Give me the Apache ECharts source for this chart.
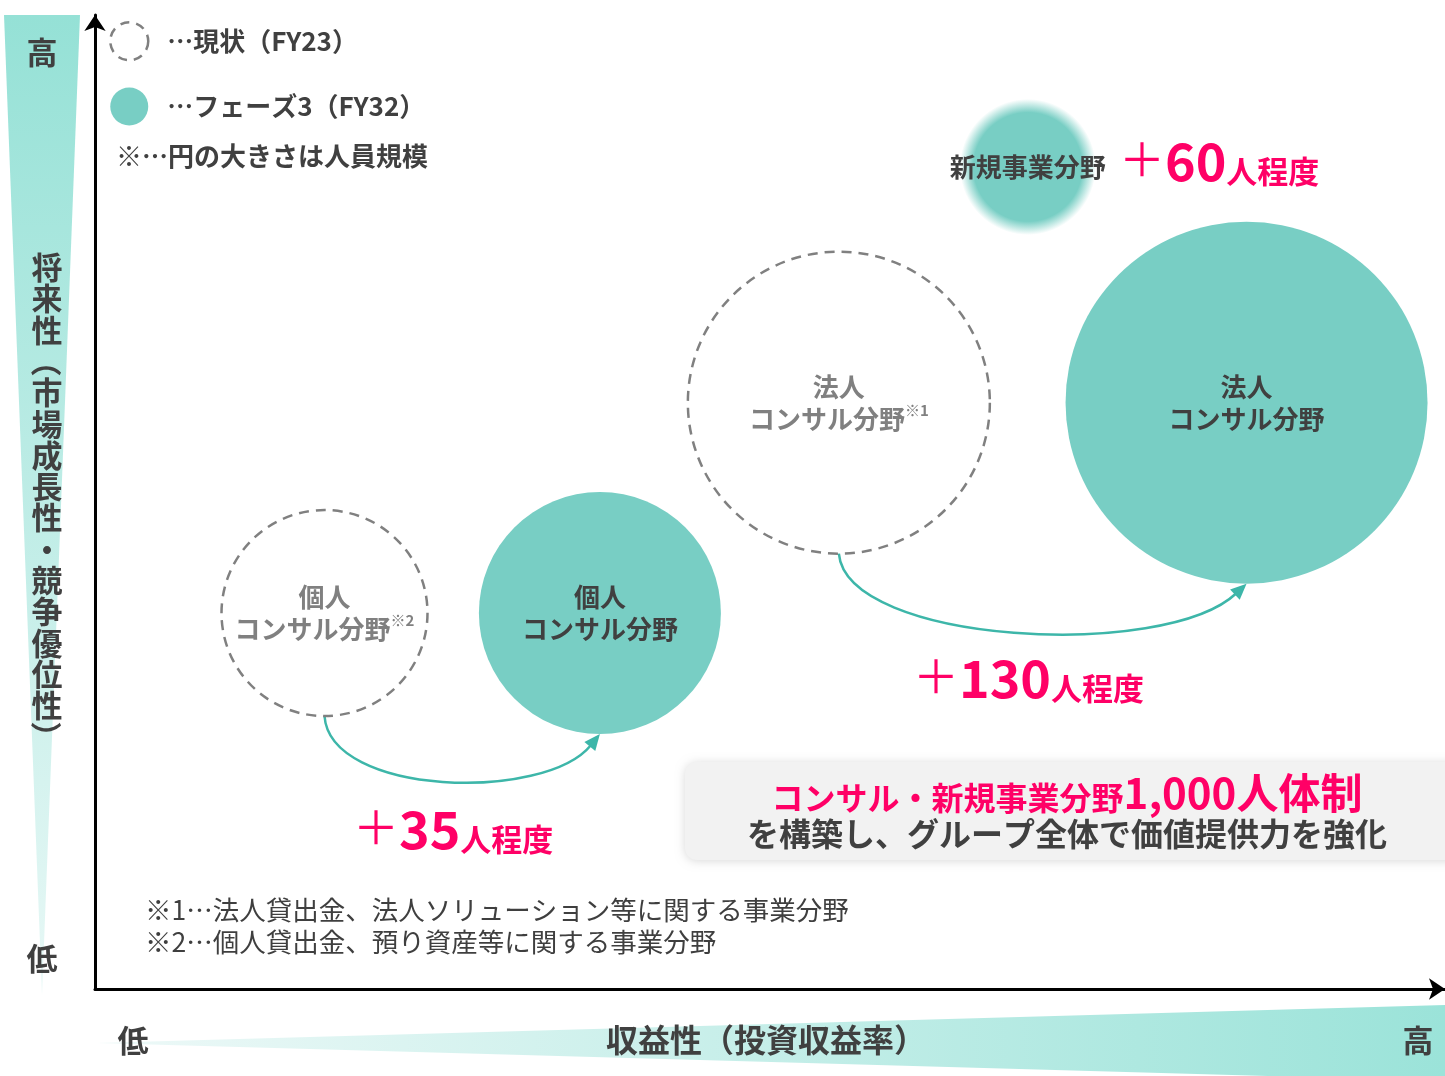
<!DOCTYPE html>
<html><head><meta charset="utf-8">
<script src="https://cdn.jsdelivr.net/npm/echarts/dist/echarts.min.js"></script>
<style>html,body{margin:0;padding:0;background:#fff}#c{width:1445px;height:1076px}</style>
</head><body><div id="c"></div>
<script>
// ---- data ----
const segments = ['個人\nコンサル分野', '法人\nコンサル分野', '新規事業分野'];
const notes = ['※2', '※1'];
// FY23 (current): x = 収益性, y = 将来性, size = 人員規模 (bubble diameter)
const fy23X = [17.0, 55.1];
const fy23Y = [38.6, 60.2];
const fy23Size = [206, 302];
// FY32 (phase 3)
const fy32X = [37.4, 85.3, 69.1];
const fy32Y = [38.6, 60.2, 84.4];
const fy32Size = [242, 362, 136];
const increase = [35, 130, 60];
const totalTarget = '1,000';
const legendNames = ['…現状（FY23）', '…フェーズ3（FY32）'];
const sizeNote = '※…円の大きさは人員規模';
const footnotes = ['※1…法人貸出金、法人ソリューション等に関する事業分野', '※2…個人貸出金、預り資産等に関する事業分野'];
const yAxisTitle = ['将','来','性','（','市','場','成','長','性','・','競','争','優','位','性','）'];
const xAxisTitle = '収益性（投資収益率）';

// ---- chart ----
const FONT = '"Noto Sans CJK JP", "Noto Sans", sans-serif';
const TEAL = '#78cec4';
const ARROW = '#3db6a9';
const PINK = '#ff0066';
const DARK = '#404040';
const GRAY = '#808080';

function txt(x, y, text, o) {
  return { type: 'text', x, y, silent: true, z: 10, style: Object.assign({
    text, fontFamily: FONT, fill: DARK, fontSize: 26, fontWeight: 'bold',
    align: 'left', verticalAlign: 'middle', textAlign: 'left', textVerticalAlign: 'middle'
  }, o || {}) };
}
function plusText(x, y, n) {
  return txt(x, y, `{p|＋}{n|${n}}{u|人程度}`, {
    rich: {
      p: { fontSize: 46, fontWeight: 'normal', fill: PINK, fontFamily: FONT, lineHeight: 56, verticalAlign: 'middle' },
      n: { fontSize: 52, fontWeight: 'bold', fill: PINK, fontFamily: FONT, lineHeight: 56, verticalAlign: 'bottom' },
      u: { fontSize: 31, fontWeight: 'bold', fill: PINK, fontFamily: FONT, lineHeight: 33, verticalAlign: 'bottom' }
    }
  });
}
// vertical (tategaki) title: one glyph per cell, brackets rotated
function verticalTitle(cx, cy, chars, pitch) {
  const top = cy - (chars.length - 1) / 2 * pitch;
  return chars.map((ch, i) => {
    const el = txt(cx, top + i * pitch, ch, { fontSize: 31, align: 'center', textAlign: 'center' });
    if (ch === '（' || ch === '）') el.rotation = -Math.PI / 2;
    return el;
  });
}

const chart = echarts.init(document.getElementById('c'), null, { renderer: 'canvas' });

const option = {
  backgroundColor: '#ffffff',
  animation: false,
  grid: { left: 95, right: 0, top: 15, bottom: 87 },
  xAxis: {
    type: 'value', min: 0, max: 100,
    axisLine: { show: true, onZero: false, symbol: ['none', 'arrow'], symbolSize: [16, 16], lineStyle: { color: '#000', width: 3 } },
    axisTick: { show: false }, axisLabel: { show: false }, splitLine: { show: false }
  },
  yAxis: {
    type: 'value', min: 0, max: 100,
    axisLine: { show: true, onZero: false, symbol: ['none', 'arrow'], symbolSize: [16, 16], lineStyle: { color: '#000', width: 3 } },
    axisTick: { show: false }, axisLabel: { show: false }, splitLine: { show: false }
  },
  legend: {
    orient: 'vertical', left: 109, top: 21, padding: 0, itemWidth: 38, itemHeight: 38, itemGap: 26,
    selectedMode: false,
    data: [
      { name: legendNames[0], icon: 'circle', itemStyle: { color: 'rgba(255,255,255,0)', borderColor: GRAY, borderWidth: 2.5, borderType: [9, 7], opacity: 1 } },
      { name: legendNames[1], icon: 'circle', itemStyle: { color: TEAL, borderWidth: 0, opacity: 1 } }
    ],
    textStyle: { fontFamily: FONT, fontSize: 26, fontWeight: 'bold', color: DARK, padding: [0, 0, 0, 14] }
  },
  series: [
    {
      name: legendNames[0], type: 'scatter', z: 3,
      symbolSize: v => v[2],
      data: fy23X.map((x, i) => ({ name: segments[i], value: [x, fy23Y[i], fy23Size[i]] })),
      itemStyle: { color: 'rgba(255,255,255,0)', borderColor: GRAY, borderWidth: 2.5, borderType: [10, 7], opacity: 1 },
      emphasis: { disabled: true },
      label: {
        show: true, position: 'inside',
        formatter: p => { const [a, b] = p.name.split('\n'); return `{t|${a}}\n{t|${b}}{s|${notes[p.dataIndex]}}`; },
        rich: {
          t: { fontFamily: FONT, fontSize: 26, fontWeight: 'bold', color: GRAY, lineHeight: 32 },
          s: { fontFamily: FONT, fontSize: 15, fontWeight: 'bold', color: GRAY, lineHeight: 32, verticalAlign: 'top' }
        }
      }
    },
    {
      name: legendNames[1], type: 'scatter', z: 3,
      symbolSize: v => v[2],
      data: fy32X.map((x, i) => {
        const item = { name: segments[i], value: [x, fy32Y[i], fy32Size[i]] };
        if (i === 2) {
          item.itemStyle = { color: { type: 'radial', x: 0.5, y: 0.5, r: 0.5, colorStops: [
            { offset: 0, color: 'rgba(120,206,196,1)' },
            { offset: 0.8, color: 'rgba(120,206,196,1)' },
            { offset: 1, color: 'rgba(120,206,196,0)' }] }, opacity: 1 };
        }
        return item;
      }),
      itemStyle: { color: TEAL, opacity: 1 },
      emphasis: { disabled: true },
      label: {
        show: true, position: 'inside',
        formatter: p => p.name.split('\n').map(s => `{t|${s}}`).join('\n'),
        rich: { t: { fontFamily: FONT, fontSize: 26, fontWeight: 'bold', color: DARK, lineHeight: 32 } }
      }
    },
    {
      type: 'custom', z: 2, silent: true,
      encode: { x: [0, 3], y: [1, 4] },
      data: fy23X.map((x, i) => [x, fy23Y[i], fy23Size[i], fy32X[i], fy32Y[i], fy32Size[i]]),
      renderItem: (params, api) => {
        const p1 = api.coord([api.value(0), api.value(1)]);
        const p2 = api.coord([api.value(3), api.value(4)]);
        const x1 = p1[0], y1 = p1[1] + api.value(2) / 2;
        const x2 = p2[0], y2 = p2[1] + api.value(5) / 2;
        const dx = x2 - x1, D = 58 + 0.08 * dx;
        const c1 = [x1 + 0.02 * dx, y1 + D], c2 = [x1 + 0.8 * dx, y2 + 0.85 * D];
        let ux = x2 - c2[0], uy = y2 - c2[1];
        const L = Math.hypot(ux, uy); ux /= L; uy /= L;
        const hl = 16, hw = 7;
        const bx = x2 - ux * hl, by = y2 - uy * hl;
        return { type: 'group', children: [
          { type: 'bezierCurve', shape: { x1, y1, x2: bx + ux * 2, y2: by + uy * 2, cpx1: c1[0], cpy1: c1[1], cpx2: c2[0], cpy2: c2[1] },
            style: { stroke: ARROW, lineWidth: 2.5, fill: null } },
          { type: 'polygon', shape: { points: [[x2, y2], [bx - uy * hw, by + ux * hw], [bx + uy * hw, by - ux * hw]] },
            style: { fill: ARROW } }
        ] };
      }
    }
  ],
  graphic: [
    { type: 'polygon', silent: true, z: 0, shape: { points: [[4, 15], [80, 15], [42, 995]] },
      style: { fill: new echarts.graphic.LinearGradient(0, 0, 0, 1, [{ offset: 0, color: '#95e1d6' }, { offset: 1, color: '#e8f8f6' }]) } },
    { type: 'polygon', silent: true, z: 0, shape: { points: [[97, 1043], [1445, 1005], [1445, 1081]] },
      style: { fill: new echarts.graphic.LinearGradient(0, 0, 1, 0, [{ offset: 0, color: '#eef9f8' }, { offset: 1, color: '#9be3d9' }]) } },
    txt(42, 52, '高', { fontSize: 31, align: 'center', textAlign: 'center' }),
    ...verticalTitle(47, 502, yAxisTitle, 31.3),
    txt(42, 958, '低', { fontSize: 31, align: 'center', textAlign: 'center' }),
    txt(133, 1040, '低', { fontSize: 31, align: 'center', textAlign: 'center' }),
    txt(766, 1040, xAxisTitle, { fontSize: 32, align: 'center', textAlign: 'center' }),
    txt(1418, 1040, '高', { fontSize: 31, align: 'center', textAlign: 'center' }),
    txt(116, 156, sizeNote),
    txt(145, 910, footnotes[0], { fontWeight: 'normal', fill: '#3f3f3f', fontSize: 26.5 }),
    txt(145, 942, footnotes[1], { fontWeight: 'normal', fill: '#3f3f3f', fontSize: 26.5 }),
    plusText(353, 827, increase[0]),
    plusText(913, 676, increase[1]),
    plusText(1119, 159, increase[2]),
    { type: 'rect', silent: true, z: 5, shape: { x: 685, y: 762, width: 800, height: 98, r: 12 },
      style: { fill: '#f2f2f2', shadowBlur: 10, shadowColor: 'rgba(0,0,0,0.15)', shadowOffsetX: 0, shadowOffsetY: 1 } },
    txt(1067, 791, `{a|コンサル・新規事業分野}{b|${totalTarget}人体制}`, {
      align: 'center', textAlign: 'center',
      rich: {
        a: { fontSize: 32, fontWeight: 'bold', fill: PINK, fontFamily: FONT, lineHeight: 46, verticalAlign: 'bottom' },
        b: { fontSize: 42, fontWeight: 'bold', fill: PINK, fontFamily: FONT, lineHeight: 46, verticalAlign: 'bottom' }
      }
    }),
    txt(1067, 834, 'を構築し、グループ全体で価値提供力を強化', { fontSize: 32, align: 'center', textAlign: 'center' })
  ]
};
chart.setOption(option);
</script>
</body></html>
